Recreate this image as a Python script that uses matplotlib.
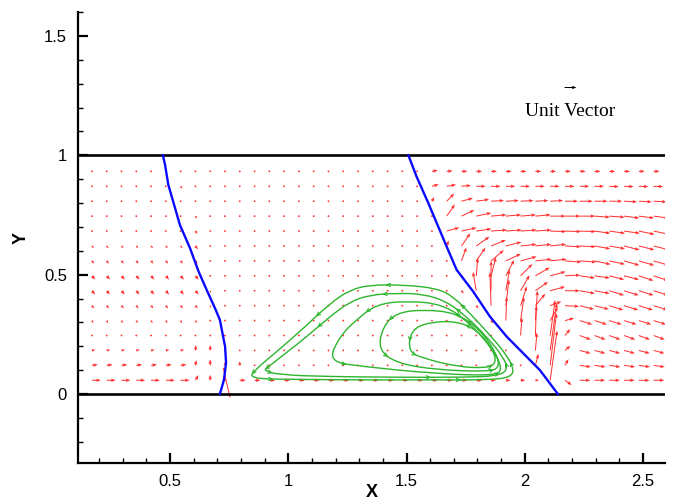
import numpy as np
import matplotlib
matplotlib.use("Agg")
import matplotlib.pyplot as plt
from matplotlib.path import Path
from matplotlib.patches import PathPatch
from matplotlib.ticker import MultipleLocator, FuncFormatter

# ---------------- data ----------------
X_NODES = [0.170, 0.2325, 0.295, 0.3575, 0.420, 0.4825, 0.545, 0.6075, 0.670,
           0.7325, 0.795, 0.8575, 0.920, 0.9825, 1.045, 1.1075, 1.170, 1.2325,
           1.295, 1.3575, 1.420, 1.4825, 1.545, 1.6075, 1.670, 1.7325, 1.795,
           1.8575, 1.920, 1.9825, 2.045, 2.1075, 2.170, 2.2325, 2.295, 2.3575,
           2.420, 2.4825, 2.545]
# rows listed from top (y=0.9325) to bottom (y=0.0575)
Y_NODES = [0.9325, 0.87, 0.8075, 0.745, 0.6825, 0.62, 0.5575, 0.495, 0.4325,
           0.37, 0.3075, 0.245, 0.1825, 0.12, 0.0575]

MID0 = "0 0 0 0 0 0 0 0 0 0 0 0 0 0"
# vector magnitude (velocity units); left | middle | right blocks
MAG = [
 "0.05 0.05 0.05 0.05 0.05 0.05 0.05 0.05 0.05 | " + MID0 + " | 0.5 0.5 0.5 0.5 0.5 0.5 0.5 0.5 0.5 0.5 0.5 0.5 0.5 0.5 0.5 0.5",
 "0.08 0.08 0.08 0.08 0.08 0.08 0.25 0.08 0.1 | " + MID0 + " | 0.6 0.8 0.8 0.8 0.8 0.8 0.8 0.8 0.8 0.8 0.8 0.8 0.8 0.8 0.8 0.8",
 "0.08 0.08 0.08 0.08 0.08 0.08 0.08 0.08 0.08 | " + MID0 + " | 0.4 0.9 1.0 1.1 1.1 1.1 1.1 1.1 1.1 1.1 1.1 1.1 1.1 1.1 1.1 1.1",
 "0.08 0.08 0.08 0.08 0.08 0.08 0.1 0.25 0.1 | " + MID0 + " | 0 1.2 1.2 1.3 1.3 1.3 1.3 1.3 1.3 1.3 1.3 1.3 1.3 1.3 1.3 1.3",
 "0.15 0.15 0.15 0.15 0.15 0.15 0.15 0.3 0.15 | " + MID0 + " | 0 1.1 1.3 1.3 1.35 1.35 1.35 1.35 1.35 1.35 1.35 1.35 1.35 1.35 1.35 1.35",
 "0.25 0.25 0.25 0.25 0.25 0.25 0.25 0.35 0.1 | " + MID0 + " | 0 0.5 1.3 1.35 1.35 1.35 1.35 1.35 1.35 1.35 1.35 1.35 1.35 1.35 1.35 1.35",
 "0.3 0.3 0.3 0.3 0.3 0.3 0.3 0.3 0.1 | " + MID0 + " | 0 0 1.2 1.35 1.4 1.4 1.4 1.4 1.4 1.4 1.4 1.4 1.35 1.35 1.35 1.35",
 "0.42 0.42 0.42 0.42 0.42 0.42 0.42 0.42 0.15 | " + MID0 + " | 0 0 0.3 1.5 1.6 1.5 1.4 1.4 1.35 1.3 1.3 1.3 1.3 1.3 1.3 1.3",
 "0.42 0.42 0.42 0.42 0.42 0.42 0.42 0.42 0.2 | " + MID0 + " | 0 0 0.3 1.6 2.5 1.8 1.5 1.3 1.3 1.25 1.3 1.3 1.3 1.3 1.3 1.3",
 "0.3 0.3 0.3 0.3 0.3 0.3 0.3 0.3 0.2 | " + MID0 + " | 0 0 0 0.3 2.8 2.2 1.7 1.3 1.0 1.2 1.25 1.25 1.25 1.25 1.25 1.25",
 "0.25 0.25 0.25 0.25 0.25 0.25 0.25 0.25 0.15 | " + MID0 + " | 0 0 0 0 0.3 2.0 2.0 2.5 1.3 0.8 1.1 1.1 1.1 1.1 1.1 1.1",
 "0.1 0.1 0.1 0.1 0.1 0.1 0.1 0.1 0.1 | " + MID0 + " | 0 0 0 0 0 0.3 1.5 2.5 3.0 0.7 1.0 1.0 1.0 1.0 1.0 1.0",
 "0.3 0.3 0.3 0.3 0.3 0.3 0.3 0.45 0.45 | " + MID0 + " | 0 0 0 0 0 0 0.3 1.5 4.0 0.6 0.95 0.95 0.95 0.95 0.95 0.95",
 "0.5 0.5 0.5 0.5 0.5 0.5 0.5 0.45 0.5 | 0.3 0.35 0 0 0 0 0 0 0 0 0 0 0 0 | 0 0 0 0 0 0 0 1.0 4.4 0.6 0.95 0.95 0.95 0.95 0.95 0.95",
 "0.75 0.75 0.75 0.75 0.75 0.75 0.75 0.5 0.45 | 0 0.5 0.5 0.5 0.5 0.5 0.5 0.5 0.5 0.5 0.5 0.5 0.5 0.5 | 0.5 0.5 0.5 0.5 0.4 0.4 0.4 0.3 4.2 0.7 0.9 0.9 0.9 0.9 0.9 0.9",
]
# vector direction (degrees from +x)
ANG = [
 "-50 -50 -50 -50 -50 -50 -50 -50 -50 | " + MID0 + " | 10 5 0 0 0 0 0 0 0 0 0 0 0 0 0 0",
 "-50 -50 -50 -50 -50 -50 -55 -50 -50 | " + MID0 + " | 15 10 5 0 0 0 0 0 0 0 0 0 -2 -2 -2 -2",
 "-50 -50 -50 -50 -50 -50 -50 -50 -50 | " + MID0 + " | 60 45 15 8 3 3 3 3 3 0 0 0 0 -3 -3 -3",
 "-50 -50 -50 -50 -50 -50 -50 -55 -50 | " + MID0 + " | 0 55 25 12 5 5 5 5 0 0 0 -4 -4 -7 -7 -7",
 "-50 -50 -50 -50 -50 -50 -50 -55 -20 | " + MID0 + " | 0 15 12 8 4 4 4 4 -2 -2 -2 -8 -8 -8 -12 -12",
 "-50 -50 -50 -50 -50 -50 -50 -55 -50 | " + MID0 + " | 0 70 55 35 22 14 6 6 6 -3 -3 -10 -10 -14 -14 -14",
 "-50 -50 -50 -50 -50 -50 -50 -50 -60 | " + MID0 + " | 0 0 70 55 40 25 15 6 6 -4 -4 -12 -12 -16 -16 -16",
 "-50 -50 -50 -50 -50 -50 -50 -50 -60 | " + MID0 + " | 0 0 -50 85 75 62 45 30 15 3 -8 -8 -14 -14 -18 -18",
 "-50 -50 -50 -50 -50 -50 -50 -50 -70 | " + MID0 + " | 0 0 -50 100 90 80 60 35 15 0 -10 -10 -17 -17 -17 -17",
 "-50 -50 -50 -50 -50 -50 -50 -50 -70 | " + MID0 + " | 0 0 0 -50 92 83 72 50 20 -3 -14 -14 -17 -17 -17 -17",
 "-60 -60 -60 -60 -60 -60 -60 -60 -60 | " + MID0 + " | 0 0 0 0 -50 88 82 86 60 15 -17 -17 -17 -17 -17 -17",
 "-30 -30 -30 -30 -30 -30 -30 -30 -30 | " + MID0 + " | 0 0 0 0 0 -50 86 88 82 50 -20 -20 -20 -20 -20 -20",
 "10 10 10 10 10 10 10 85 90 | " + MID0 + " | 0 0 0 0 0 0 -50 85 82 40 -15 -15 -15 -15 -15 -15",
 "8 8 8 8 8 8 8 80 90 | 90 90 0 0 0 0 0 0 0 0 0 0 0 0 | 0 0 0 0 0 0 0 75 83 60 -8 -8 -8 -8 -8 -8",
 "0 0 0 0 0 0 0 60 90 | 0 0 0 0 0 0 0 0 0 0 0 0 0 0 | 0 0 0 0 0 0 0 0 82 -35 0 0 0 0 0 0",
]
# single vector crossing the lower wall
EXTRA_X = [0.725]
EXTRA_Y = [0.11]
EXTRA_MAG = [2.6]
EXTRA_ANG = [-77]

# interfaces (blue)
BLUE1_X = [0.470, 0.479, 0.493, 0.521, 0.542, 0.585, 0.620, 0.655, 0.690, 0.711, 0.733, 0.737, 0.728, 0.711]
BLUE1_Y = [1.0, 0.96, 0.876, 0.78, 0.708, 0.61, 0.515, 0.436, 0.36, 0.31, 0.198, 0.13, 0.059, 0.0]
BLUE2_X = [1.508, 1.542, 1.592, 1.670, 1.712, 1.782, 1.853, 1.924, 1.994, 2.064, 2.140]
BLUE2_Y = [1.0, 0.912, 0.80, 0.617, 0.52, 0.429, 0.324, 0.24, 0.17, 0.10, 0.0]

# closed streamlines (green), counter-clockwise
SL_A_X = [0.831, 1.036, 1.317, 1.599, 1.853, 1.938, 1.955, 1.924, 1.853, 1.768, 1.698, 1.627, 1.487, 1.346, 1.261, 1.177, 1.064, 0.951, 0.866]
SL_A_Y = [0.064, 0.061, 0.059, 0.059, 0.059, 0.070, 0.101, 0.163, 0.247, 0.338, 0.408, 0.443, 0.457, 0.457, 0.436, 0.380, 0.275, 0.177, 0.107]
SL_B_X = [0.895, 0.965, 1.176, 1.458, 1.740, 1.881, 1.930, 1.909, 1.839, 1.754, 1.670, 1.571, 1.458, 1.346, 1.261, 1.176, 1.078, 0.979, 0.916]
SL_B_Y = [0.098, 0.080, 0.073, 0.070, 0.070, 0.075, 0.100, 0.156, 0.240, 0.324, 0.387, 0.419, 0.422, 0.415, 0.387, 0.324, 0.240, 0.163, 0.114]
SL_C_X = [1.169, 1.316, 1.598, 1.866, 1.908, 1.866, 1.767, 1.655, 1.500, 1.373, 1.289, 1.218]
SL_C_Y = [0.136, 0.115, 0.087, 0.076, 0.101, 0.186, 0.298, 0.376, 0.390, 0.376, 0.312, 0.242]
SL_D_X = [1.380, 1.458, 1.627, 1.838, 1.894, 1.880, 1.810, 1.710, 1.570, 1.458, 1.401]
SL_D_Y = [0.186, 0.129, 0.101, 0.094, 0.108, 0.172, 0.270, 0.340, 0.354, 0.340, 0.284]
SL_E_X = [1.507, 1.570, 1.710, 1.838, 1.880, 1.866, 1.796, 1.710, 1.598, 1.520]
SL_E_Y = [0.178, 0.150, 0.115, 0.108, 0.129, 0.186, 0.270, 0.305, 0.301, 0.270]
STREAMS = [(SL_A_X, SL_A_Y), (SL_B_X, SL_B_Y), (SL_C_X, SL_C_Y), (SL_D_X, SL_D_Y), (SL_E_X, SL_E_Y)]

XTICKS = [0.5, 1, 1.5, 2, 2.5]
YTICKS = [0, 0.5, 1, 1.5]

# ---------------- figure ----------------
RED = "#ff3030"
GREEN = "#2db52d"
BLUE = "#0a0aff"

fig = plt.figure(figsize=(6.74, 5.01), dpi=100)
ax = fig.add_axes([78 / 674, 38 / 501, 587 / 674, 451 / 501])
ax.set_xlim(0.111, 2.593)
ax.set_ylim(-0.289, 1.60)

def parse(rows):
    return np.array([[float(v) for v in r.replace("|", " ").split()] for r in rows])

mag = parse(MAG)
ang = np.deg2rad(parse(ANG))
XX, YY = np.meshgrid(np.array(X_NODES), np.array(Y_NODES))
U = mag * np.cos(ang)
V = mag * np.sin(ang)

qkw = dict(angles="xy", scale_units="xy", scale=20, color=RED, units="dots",
           width=1.0, headwidth=3.5, headlength=4.5, headaxislength=4.0,
           minlength=2.0, zorder=3)
Q = ax.quiver(XX, YY, U, V, **qkw)
ea = np.deg2rad(np.array(EXTRA_ANG))
ax.quiver(EXTRA_X, EXTRA_Y, np.array(EXTRA_MAG) * np.cos(ea),
          np.array(EXTRA_MAG) * np.sin(ea), **qkw)

# walls
ax.axhline(0, color="k", lw=1.9, zorder=4)
ax.axhline(1, color="k", lw=1.9, zorder=4)

# interfaces
ax.plot(BLUE1_X, BLUE1_Y, color=BLUE, lw=1.7, zorder=5)
ax.plot(BLUE2_X, BLUE2_Y, color=BLUE, lw=1.7, zorder=5)

# streamlines: smooth closed curves via quadratic Bezier segments
def closed_smooth(xs, ys):
    p = np.column_stack([xs, ys])
    n = len(p)
    mids = (p + np.roll(p, -1, axis=0)) / 2.0
    verts = [mids[-1]]
    codes = [Path.MOVETO]
    for i in range(n):
        verts += [p[i], mids[i]]
        codes += [Path.CURVE3, Path.CURVE3]
    return Path(verts, codes), mids, p

for xs, ys in STREAMS:
    path, mids, p = closed_smooth(xs, ys)
    ax.add_patch(PathPatch(path, facecolor="none", edgecolor=GREEN, lw=1.0, zorder=6))
    n = len(p)
    for i in range(0, n, 3):
        d = p[(i + 1) % n] - p[i]
        d = d / np.hypot(*d) * 0.004
        m = mids[i]
        ax.annotate("", xy=(m[0] + d[0], m[1] + d[1]), xytext=(m[0] - d[0], m[1] - d[1]),
                    arrowprops=dict(arrowstyle="->", color=GREEN, lw=0.8,
                                    mutation_scale=6, shrinkA=0, shrinkB=0),
                    zorder=6)

# unit vector key
ax.quiverkey(Q, 2.191, 1.286, 1, "Unit Vector", labelpos="S", coordinates="data",
             color="k", labelcolor="k", labelsep=0.16,
             fontproperties={"family": "Liberation Serif", "size": 14})

# axes styling
for s in ["top", "right"]:
    ax.spines[s].set_visible(False)
for s in ["left", "bottom"]:
    ax.spines[s].set_linewidth(1.6)

ax.set_xticks(XTICKS)
ax.set_yticks(YTICKS)
ax.xaxis.set_minor_locator(MultipleLocator(0.1))
ax.yaxis.set_minor_locator(MultipleLocator(0.1))
fmt = FuncFormatter(lambda v, pos: "%g" % v)
ax.xaxis.set_major_formatter(fmt)
ax.yaxis.set_major_formatter(fmt)
ax.tick_params(which="major", direction="in", length=7, width=1.6, pad=8,
               labelsize=12)
ax.tick_params(which="minor", direction="in", length=3.5, width=1.0)
for lab in ax.get_xticklabels() + ax.get_yticklabels():
    lab.set_fontfamily("Liberation Sans")

ax.set_xlabel("X", fontsize=13, fontweight="bold", family="Liberation Sans", labelpad=-4)
ax.set_ylabel("Y", fontsize=13, fontweight="bold", family="Liberation Sans", labelpad=10)

fig.savefig("out.png", dpi=100)
